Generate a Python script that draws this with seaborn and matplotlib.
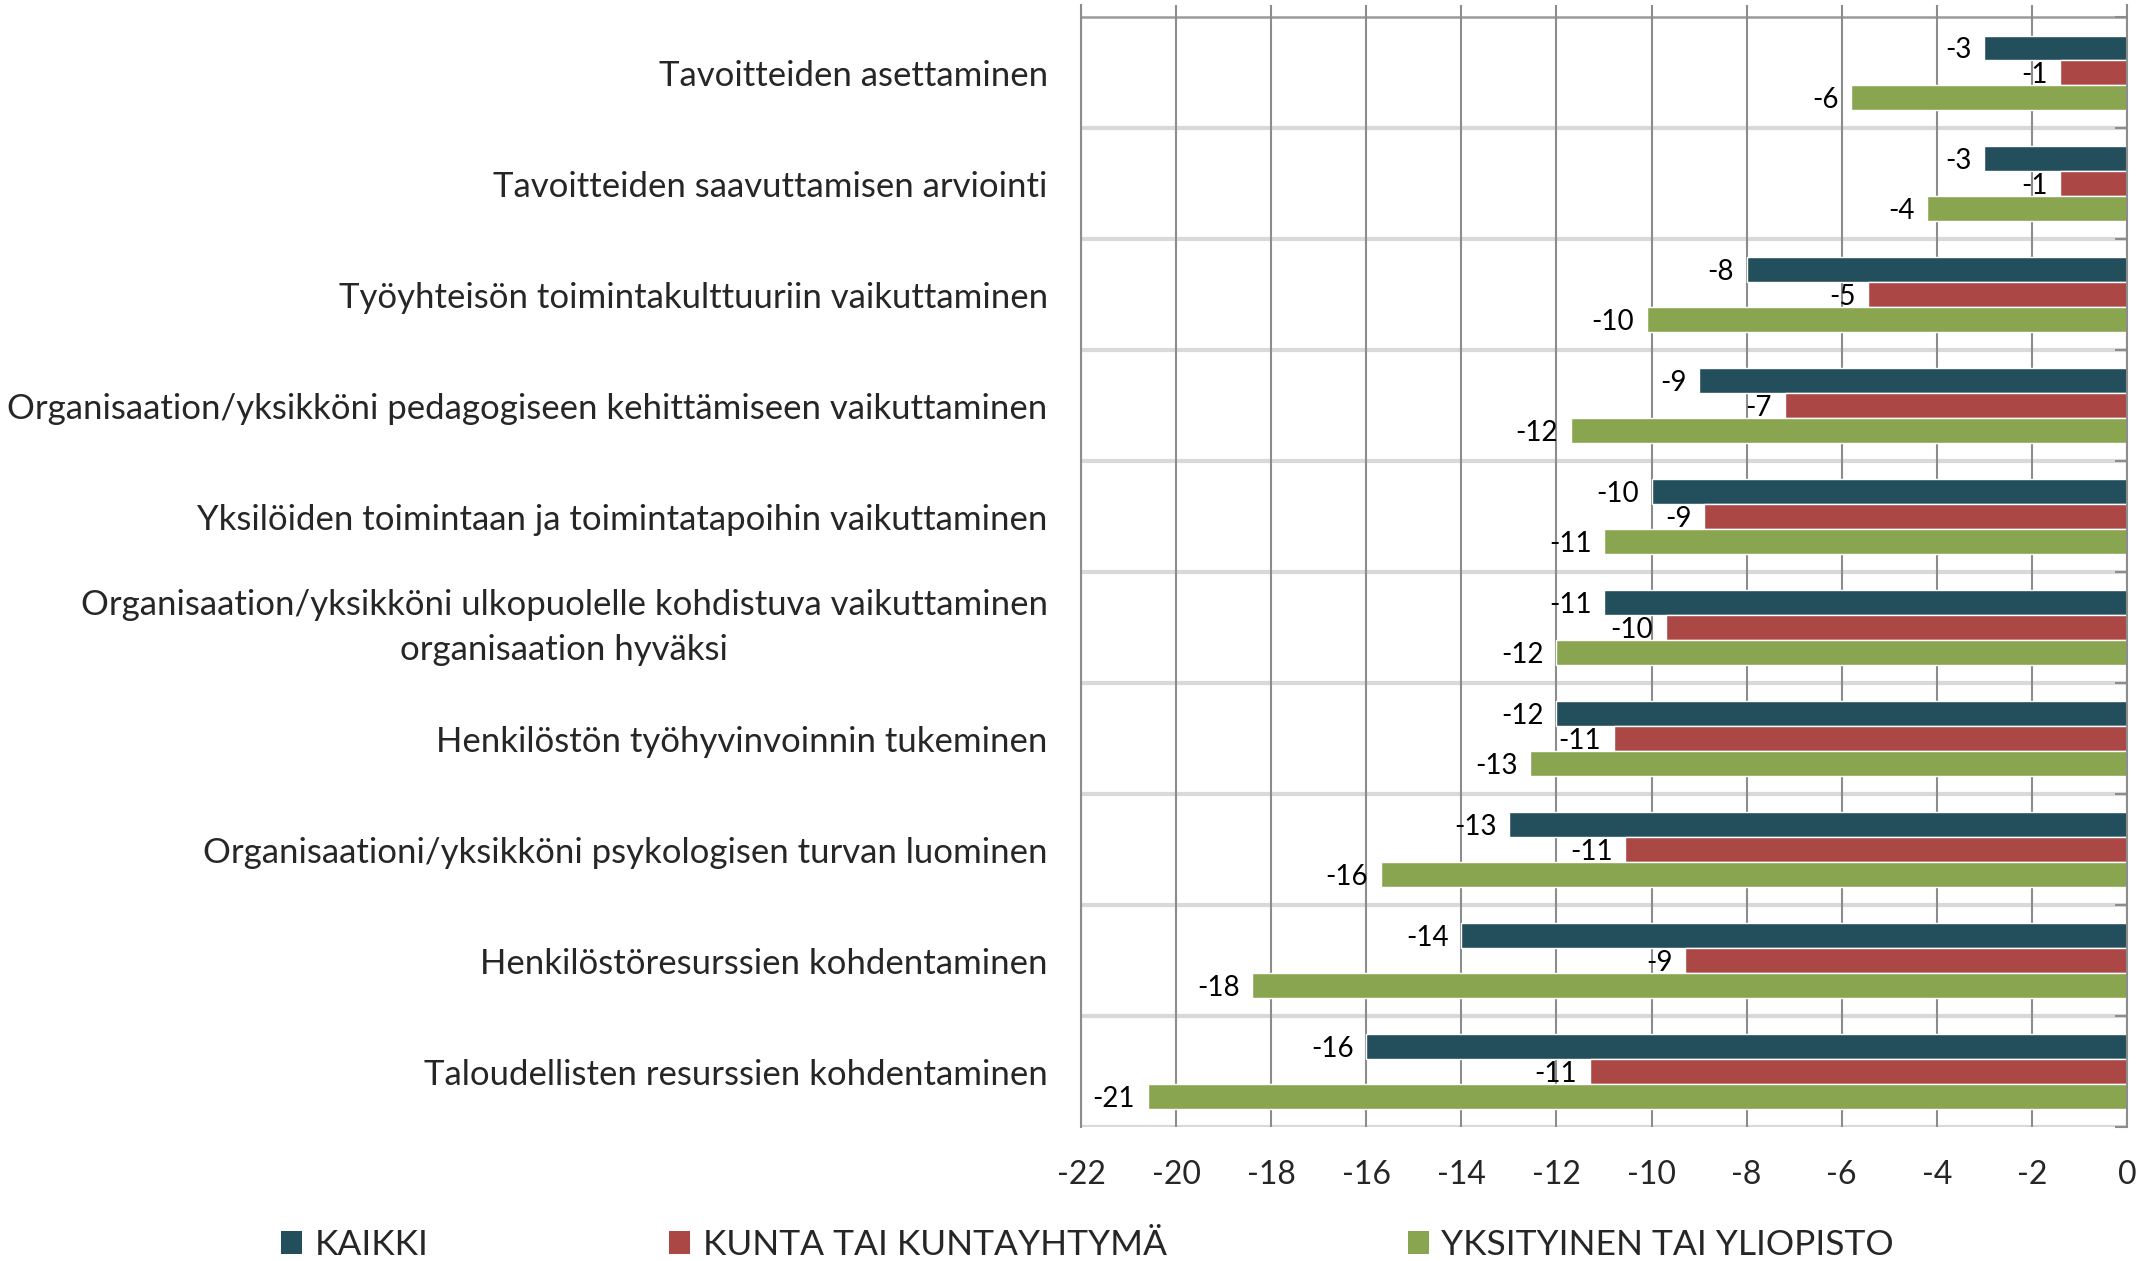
import numpy as np
import pandas as pd
import matplotlib
matplotlib.use("Agg")
import matplotlib.pyplot as plt
from matplotlib.patches import Patch
import seaborn as sns

# ------------------------------------------------------------
# data
# ------------------------------------------------------------
kohteet = [
    "Tavoitteiden asettaminen",
    "Tavoitteiden saavuttamisen arviointi",
    "Työyhteisön toimintakulttuuriin vaikuttaminen",
    "Organisaation/yksikköni pedagogiseen kehittämiseen vaikuttaminen",
    "Yksilöiden toimintaan ja toimintatapoihin vaikuttaminen",
    "Organisaation/yksikköni ulkopuolelle kohdistuva vaikuttaminen\norganisaation hyväksi",
    "Henkilöstön työhyvinvoinnin tukeminen",
    "Organisaationi/yksikköni psykologisen turvan luominen",
    "Henkilöstöresurssien kohdentaminen",
    "Taloudellisten resurssien kohdentaminen",
]
ryhmat = ["KAIKKI", "KUNTA TAI KUNTAYHTYMÄ", "YKSITYINEN TAI YLIOPISTO"]

kaikki = [-3.0, -3.0, -8.0, -9.0, -10.0, -11.0, -12.0, -13.0, -14.0, -16.0]
kunta = [-1.4, -1.4, -5.45, -7.2, -8.9, -9.7, -10.8, -10.55, -9.3, -11.3]
yksityinen = [-5.8, -4.2, -10.1, -11.7, -11.0, -12.0, -12.55, -15.7, -18.4, -20.6]

varit = ["#234E5B", "#AB4745", "#8AA550"]

df = pd.DataFrame({
    "kohde": kohteet * 3,
    "ryhma": np.repeat(ryhmat, len(kohteet)),
    "arvo": kaikki + kunta + yksityinen,
})

# ------------------------------------------------------------
# plot
# ------------------------------------------------------------
sns.set_theme(style="white")
plt.rcParams["font.family"] = ["Lato", "DejaVu Sans"]
plt.rcParams["axes.unicode_minus"] = False

fig = plt.figure(figsize=(21.54, 12.61), dpi=100)
ax = fig.add_axes([1081 / 2154, 1 - 1127 / 1261, 1046 / 2154, 1122 / 1261])

sns.barplot(
    data=df, x="arvo", y="kohde", hue="ryhma", orient="h",
    palette=varit, width=0.67, errorbar=None, saturation=1,
    edgecolor="white", linewidth=1, legend=False, ax=ax,
)

for cont, vals in zip(ax.containers, [kaikki, kunta, yksityinen]):
    txts = ax.bar_label(cont, labels=[f"{v:.0f}" for v in vals], padding=9,
                        fontsize=20, color="black")
    for t in txts:
        t.set_va("center_baseline")

ax.set_xlim(-22, 0)
ax.set_ylim(len(kohteet) - 0.5, -0.61)
ax.set_xticks(np.arange(-22, 1, 2))
ax.xaxis.grid(True, color="#8c8c8c", linewidth=1.5)
ax.set_axisbelow(True)

# category separators
for k in range(len(kohteet) + 1):
    ax.axhline(k - 0.5, color="#d9d9d9" if k else "#9a9a9a",
               linewidth=3 if k else 1.8, zorder=0.5)

for s in ["top", "bottom"]:
    ax.spines[s].set_visible(False)
for s in ["left", "right"]:
    ax.spines[s].set_color("#8c8c8c")
    ax.spines[s].set_linewidth(1.5)

ax.set_yticks(range(len(kohteet)))
ax.set_yticks(np.arange(-0.5, len(kohteet)), minor=True)
ax.tick_params(axis="y", which="major", length=0, pad=24, labelsize=25)
ax.tick_params(axis="y", which="minor", left=False, right=True,
               direction="in", length=9, width=1.5, color="#8c8c8c")
ax.tick_params(axis="x", length=0, pad=24, labelsize=23)
ax.set_xlabel("")
ax.set_ylabel("")

for lbl in ax.get_yticklabels():
    if "\n" in lbl.get_text():
        lbl.set_multialignment("center")
        lbl.set_linespacing(1.5)
        lbl.set_va("center")

handles = [Patch(facecolor=c, edgecolor="none") for c in varit]
fig.legend(handles, ryhmat, loc="center left",
           bbox_to_anchor=(263 / 2154, 1 - 1245 / 1261),
           ncol=3, frameon=False, fontsize=25.5, borderpad=0,
           handlelength=0.6, handleheight=0.6, handletextpad=0.35,
           columnspacing=6.8)

fig.savefig("out.png", dpi=100, facecolor="white")
